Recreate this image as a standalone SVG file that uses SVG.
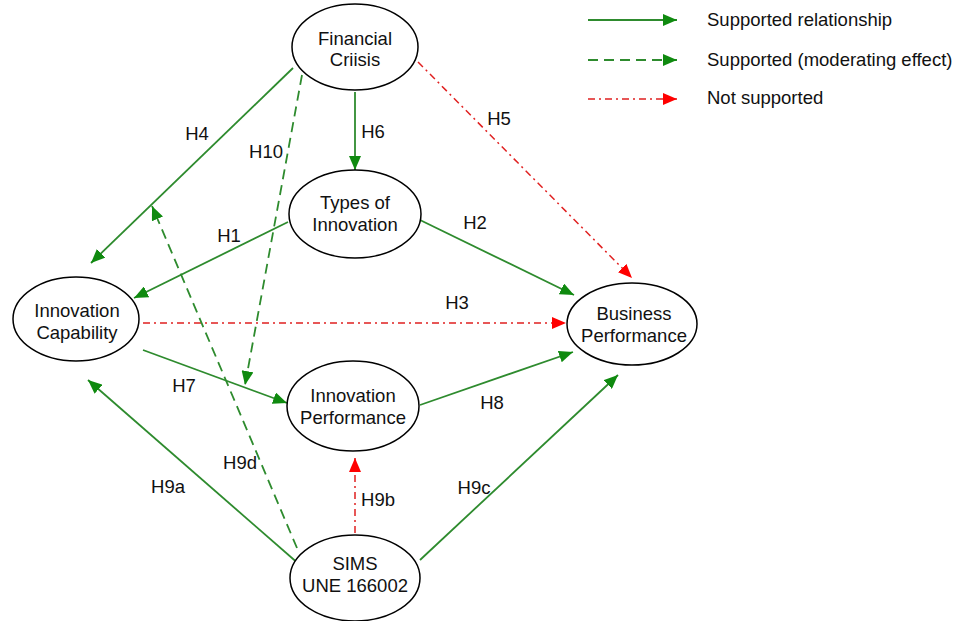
<svg xmlns="http://www.w3.org/2000/svg" width="963" height="621" viewBox="0 0 963 621">
  <defs>
    <marker id="ahG" viewBox="0 0 14 12" refX="14" refY="6" markerWidth="14" markerHeight="12" markerUnits="userSpaceOnUse" orient="auto">
      <path d="M0,0 L14,6 L0,12 Z" fill="#0f8a0f"/>
    </marker>
    <marker id="ahR" viewBox="0 0 14 12" refX="14" refY="6" markerWidth="14" markerHeight="12" markerUnits="userSpaceOnUse" orient="auto">
      <path d="M0,0 L14,6 L0,12 Z" fill="#ff0000"/>
    </marker>
  </defs>
  <style>
    .node ellipse { fill: #ffffff; stroke: #000000; stroke-width: 1.5; }
    text { font-family: "Liberation Sans", Arial, sans-serif; font-size: 18.5px; fill: #111111; }
    .node text { text-anchor: middle; }
    .lbl { text-anchor: middle; }
    .sup { stroke: #2e8b2e; stroke-width: 1.8; fill: none; marker-end: url(#ahG); }
    .mod { stroke: #2e8b2e; stroke-width: 1.8; fill: none; stroke-dasharray: 10 6; marker-end: url(#ahG); }
    .not { stroke: #e02020; stroke-width: 1.5; fill: none; stroke-dasharray: 7 4 2 4; marker-end: url(#ahR); }
  </style>
  <rect width="963" height="621" fill="#ffffff"/>

  <!-- legend -->
  <g id="legend">
    <line class="sup" x1="588" y1="20" x2="677" y2="20"/>
    <text x="707" y="26">Supported relationship</text>
    <line class="mod" x1="588" y1="60" x2="677" y2="60"/>
    <text x="707" y="66">Supported (moderating effect)</text>
    <line class="not" x1="588" y1="99" x2="677" y2="99"/>
    <text x="707" y="104">Not supported</text>
  </g>

  <!-- connectors -->
  <g id="connectors">
    <line class="sup" x1="293" y1="68" x2="91" y2="263"/>
    <line class="mod" x1="302" y1="75" x2="245" y2="385"/>
    <line class="sup" x1="355" y1="92" x2="355" y2="170"/>
    <line class="not" x1="418" y1="62" x2="632" y2="278"/>
    <line class="sup" x1="288" y1="222" x2="134" y2="298"/>
    <line class="sup" x1="420" y1="220" x2="574" y2="295"/>
    <line class="not" x1="143" y1="323" x2="566" y2="323"/>
    <line class="sup" x1="143" y1="350" x2="287" y2="403"/>
    <line class="sup" x1="420" y1="405" x2="573" y2="352"/>
    <line class="sup" x1="300" y1="565" x2="88" y2="380"/>
    <line class="mod" x1="297" y1="548" x2="152" y2="206"/>
    <line class="not" x1="355" y1="533" x2="355" y2="458"/>
    <line class="sup" x1="420" y1="560" x2="618" y2="375"/>
  </g>

  <!-- connector labels -->
  <g id="labels">
    <text class="lbl" x="197" y="140">H4</text>
    <text class="lbl" x="266" y="158">H10</text>
    <text class="lbl" x="373" y="138">H6</text>
    <text class="lbl" x="499" y="125">H5</text>
    <text class="lbl" x="229" y="242">H1</text>
    <text class="lbl" x="475" y="229">H2</text>
    <text class="lbl" x="457" y="309">H3</text>
    <text class="lbl" x="184" y="392">H7</text>
    <text class="lbl" x="492" y="409">H8</text>
    <text class="lbl" x="240" y="469">H9d</text>
    <text class="lbl" x="168" y="493">H9a</text>
    <text class="lbl" x="378" y="506">H9b</text>
    <text class="lbl" x="474" y="494">H9c</text>
  </g>

  <!-- nodes -->
  <g id="financial-crisis" class="node">
    <ellipse cx="355" cy="47" rx="63" ry="43"/>
    <text x="355" y="45">Financial</text>
    <text x="355" y="66">Criisis</text>
  </g>
  <g id="types-of-innovation" class="node">
    <ellipse cx="355" cy="214" rx="66" ry="44"/>
    <text x="355" y="209">Types of</text>
    <text x="355" y="231">Innovation</text>
  </g>
  <g id="innovation-capability" class="node">
    <ellipse cx="76" cy="319" rx="63" ry="42"/>
    <text x="77" y="317">Innovation</text>
    <text x="77" y="339">Capability</text>
  </g>
  <g id="business-performance" class="node">
    <ellipse cx="632" cy="324" rx="65" ry="41"/>
    <text x="634" y="320">Business</text>
    <text x="634" y="342">Performance</text>
  </g>
  <g id="innovation-performance" class="node">
    <ellipse cx="353" cy="406" rx="66" ry="45"/>
    <text x="353" y="402">Innovation</text>
    <text x="353" y="424">Performance</text>
  </g>
  <g id="sims" class="node">
    <ellipse cx="355" cy="578" rx="65" ry="43"/>
    <text x="355" y="570">SIMS</text>
    <text x="355" y="592">UNE 166002</text>
  </g>
</svg>
